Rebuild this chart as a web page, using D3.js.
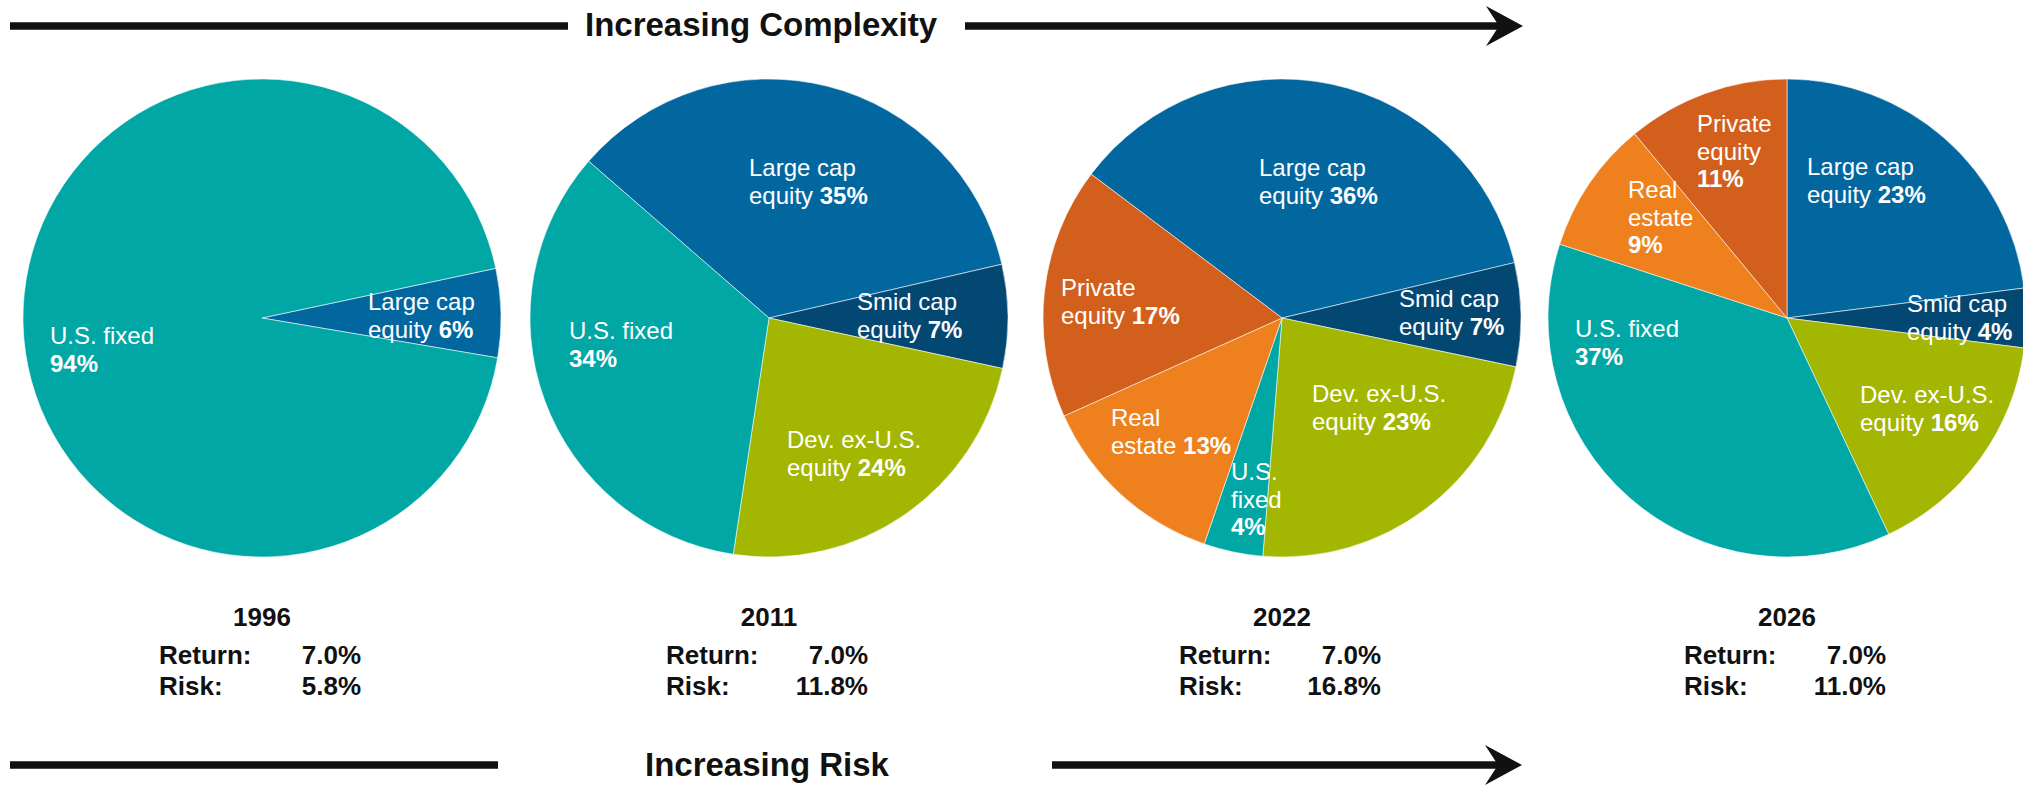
<!DOCTYPE html>
<html>
<head>
<meta charset="utf-8">
<script src="https://cdn.jsdelivr.net/npm/d3@7"></script>
<style>
  html, body { margin: 0; padding: 0; background: #fff; overflow: hidden; }
  text { font-family: "Liberation Sans", Arial, sans-serif; }
</style>
</head>
<body>
<svg id="chart" width="2023" height="786"></svg>
<script>
// Portfolio years and headline statistics
const years = ["1996", "2011", "2022", "2026"];
const expectedReturn = [7.0, 7.0, 7.0, 7.0];
const expectedRisk = [5.8, 11.8, 16.8, 11.0];

// Asset classes per portfolio, listed in clockwise drawing order
const assets1996 = ["Large cap equity", "U.S. fixed"];
const weights1996 = [6, 94];

const assets2011 = ["Large cap equity", "Smid cap equity", "Dev. ex-U.S. equity", "U.S. fixed"];
const weights2011 = [35, 7, 24, 34];

const assets2022 = ["Large cap equity", "Smid cap equity", "Dev. ex-U.S. equity", "U.S. fixed", "Real estate", "Private equity"];
const weights2022 = [36, 7, 23, 4, 13, 17];

const assets2026 = ["Large cap equity", "Smid cap equity", "Dev. ex-U.S. equity", "U.S. fixed", "Real estate", "Private equity"];
const weights2026 = [23, 4, 16, 37, 9, 11];

// Label wording, one entry per line; {v} marks where the bold weight goes
const labelLines1996 = [["Large cap", "equity {v}"], ["U.S. fixed", "{v}"]];
const labelLines2011 = [["Large cap", "equity {v}"], ["Smid cap", "equity {v}"], ["Dev. ex-U.S.", "equity {v}"], ["U.S. fixed", "{v}"]];
const labelLines2022 = [["Large cap", "equity {v}"], ["Smid cap", "equity {v}"], ["Dev. ex-U.S.", "equity {v}"], ["U.S.", "fixed", "{v}"], ["Real", "estate {v}"], ["Private", "equity {v}"]];
const labelLines2026 = [["Large cap", "equity {v}"], ["Smid cap", "equity {v}"], ["Dev. ex-U.S.", "equity {v}"], ["U.S. fixed", "{v}"], ["Real", "estate", "{v}"], ["Private", "equity", "{v}"]];

// Header / footer captions
const topCaption = "Increasing Complexity";
const bottomCaption = "Increasing Risk";
const statNames = ["Return:", "Risk:"];

// ---- presentation ----
const colour = {
  "Large cap equity": "#03679f",
  "Smid cap equity": "#034873",
  "Dev. ex-U.S. equity": "#a3b602",
  "U.S. fixed": "#00a7a5",
  "Real estate": "#ee811d",
  "Private equity": "#d35f1d"
};

const portfolios = [
  { assets: assets1996, weights: weights1996, lines: labelLines1996 },
  { assets: assets2011, weights: weights2011, lines: labelLines2011 },
  { assets: assets2022, weights: weights2022, lines: labelLines2022 },
  { assets: assets2026, weights: weights2026, lines: labelLines2026 }
];

const layout = {
  cx: [262, 769, 1282, 1787],
  cy: 318,
  r: 239,
  startDeg: [78, -49, -53, 0],
  // label block: left edge and first baseline, relative to each pie centre
  labelAt: [
    [[106, -8], [-212, 26]],
    [[-20, -142], [88, -8], [18, 130], [-200, 21]],
    [[-23, -142], [117, -11], [30, 84], [-51, 162], [-171, 108], [-221, -22]],
    [[20, -143], [120, -6], [73, 85], [-212, 19], [-159, -120], [-90, -186]]
  ],
  lineH: 27.5,
  labelSize: 24,
  statSize: 26,
  captionSize: 33
};

const svg = d3.select("#chart");
svg.append("rect").attr("width", 2023).attr("height", 786).attr("fill", "#fff");

const arc = d3.arc().innerRadius(0).outerRadius(layout.r);

portfolios.forEach((p, k) => {
  const rows = p.assets.map((a, i) => ({ asset: a, weight: p.weights[i], lines: p.lines[i], at: layout.labelAt[k][i] }));
  const start = layout.startDeg[k] * Math.PI / 180;
  const pie = d3.pie().sort(null).value(d => d.weight)
    .startAngle(start).endAngle(start + 2 * Math.PI);

  const g = svg.append("g").attr("transform", `translate(${layout.cx[k]},${layout.cy})`);

  g.selectAll("path.slice")
    .data(pie(rows))
    .join("path")
    .attr("class", "slice")
    .attr("d", arc)
    .attr("fill", d => colour[d.data.asset])
    .attr("stroke", "rgba(255,255,255,0.55)")
    .attr("stroke-width", 1);

  // slice labels: name in regular weight, percentage in bold
  const lbl = g.selectAll("g.lbl")
    .data(pie(rows))
    .join("g")
    .attr("class", "lbl");

  lbl.each(function (d) {
    const sel = d3.select(this);
    d.data.lines.forEach((line, li) => {
      const t = sel.append("text")
        .attr("x", d.data.at[0])
        .attr("y", d.data.at[1] + li * layout.lineH)
        .attr("fill", "#fff")
        .attr("font-size", layout.labelSize);
      const parts = line.split("{v}");
      if (parts[0]) t.append("tspan").text(parts[0]);
      if (parts.length > 1) {
        t.append("tspan").attr("font-weight", "bold").text(d.data.weight + "%");
      }
    });
  });

  // year and statistics beneath the pie
  const sx = layout.cx[k];
  svg.append("text")
    .attr("x", sx).attr("y", 626)
    .attr("text-anchor", "middle")
    .attr("font-weight", "bold")
    .attr("font-size", layout.statSize)
    .attr("fill", "#111")
    .text(years[k]);

  const vals = [expectedReturn[k], expectedRisk[k]];
  statNames.forEach((nm, j) => {
    const y = 664 + j * 30.5;
    svg.append("text")
      .attr("x", sx - 103).attr("y", y)
      .attr("font-weight", "bold").attr("font-size", layout.statSize)
      .attr("fill", "#111")
      .text(nm);
    svg.append("text")
      .attr("x", sx + 99).attr("y", y)
      .attr("text-anchor", "end")
      .attr("font-weight", "bold").attr("font-size", layout.statSize)
      .attr("fill", "#111")
      .text(d3.format(".1f")(vals[j]) + "%");
  });
});

// arrows with captions
function arrowRow(y, leftEnd, textX, rightStart, tip, caption, baseline) {
  const stroke = "#111";
  svg.append("line").attr("x1", 10).attr("x2", leftEnd).attr("y1", y).attr("y2", y)
    .attr("stroke", stroke).attr("stroke-width", 7.5);
  svg.append("line").attr("x1", rightStart).attr("x2", tip - 20).attr("y1", y).attr("y2", y)
    .attr("stroke", stroke).attr("stroke-width", 7.5);
  svg.append("path")
    .attr("d", `M${tip},${y} L${tip - 37},${y - 20} L${tip - 24},${y} L${tip - 37},${y + 20} Z`)
    .attr("fill", stroke);
  svg.append("text")
    .attr("x", textX).attr("y", baseline)
    .attr("font-weight", "bold").attr("font-size", layout.captionSize)
    .attr("fill", "#111")
    .text(caption);
}

arrowRow(26, 568, 585, 965, 1523, topCaption, 36);
arrowRow(765, 498, 645, 1052, 1522, bottomCaption, 776);
</script>
</body>
</html>
